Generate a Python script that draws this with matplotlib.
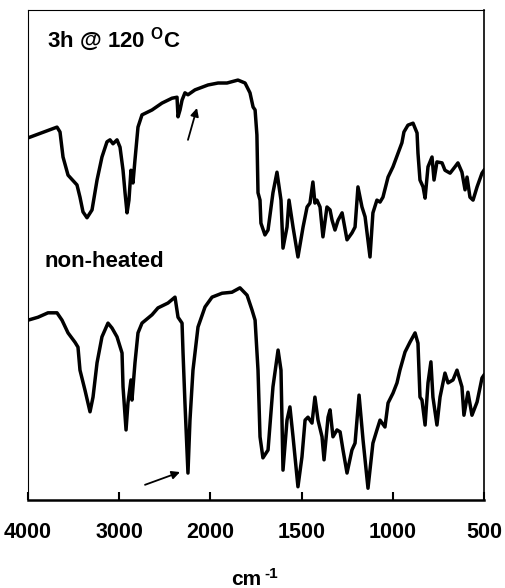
import numpy as np
import matplotlib
matplotlib.use("Agg")
import matplotlib.pyplot as plt

# ---- data (wavenumber in cm-1, arbitrary transmittance-like units 0-100) ----
heated_wn = [4000, 3682, 3649, 3616, 3561, 3463, 3430, 3397, 3353, 3298, 3243, 3189,
             3134, 3101, 3068, 3024, 2991, 2958, 2936, 2914, 2893, 2871, 2849, 2827,
             2794, 2750, 2640, 2531, 2421, 2366, 2355, 2333, 2311, 2279, 2246, 2169,
             2026, 1958, 1909, 1849, 1810, 1783, 1766, 1755, 1745, 1739, 1728, 1723,
             1701, 1684, 1657, 1635, 1613, 1602, 1580, 1569, 1547, 1520, 1492, 1470,
             1454, 1438, 1427, 1416, 1399, 1383, 1361, 1344, 1333, 1317, 1300, 1278,
             1251, 1224, 1207, 1191, 1169, 1152, 1125, 1109, 1087, 1070, 1054, 1026,
             999, 971, 950, 939, 917, 889, 867, 862, 851, 834, 823, 807, 785, 774,
             758, 730, 714, 686, 659, 643, 621, 604, 593, 577, 560, 538, 511, 500]
heated_t = [73.9, 76.1, 75.1, 70.0, 66.3, 64.3, 61.8, 58.8, 57.6, 59.2, 65.3, 70.0,
            73.1, 73.5, 72.7, 73.5, 72.0, 67.3, 62.7, 58.6, 61.2, 67.3, 64.7, 69.4,
            76.1, 78.6, 79.6, 81.0, 82.0, 82.2, 78.2, 79.6, 81.6, 83.1, 82.7, 83.7,
            84.7, 85.1, 85.1, 85.7, 85.1, 83.1, 80.2, 79.6, 74.5, 62.7, 61.2, 56.5,
            54.1, 55.1, 62.7, 66.9, 61.2, 51.4, 55.7, 61.2, 55.7, 49.6, 55.7, 59.8,
            60.6, 64.9, 60.6, 61.2, 59.8, 53.7, 59.8, 59.2, 57.1, 55.1, 57.1, 58.6,
            53.1, 54.5, 55.7, 63.9, 59.8, 57.8, 49.6, 58.6, 61.2, 60.8, 61.8, 65.9,
            68.0, 70.8, 72.9, 75.1, 76.5, 76.9, 74.9, 70.8, 65.3, 63.9, 61.6, 68.0,
            70.0, 65.3, 69.0, 68.8, 67.3, 66.7, 68.0, 68.8, 66.9, 63.3, 65.9, 61.8,
            61.2, 63.9, 66.7, 67.3]

nonheated_wn = [4000, 3890, 3781, 3682, 3627, 3561, 3485, 3452, 3430, 3375, 3320, 3287,
                3243, 3189, 3123, 3079, 3024, 2969, 2958, 2925, 2904, 2871, 2860, 2827,
                2794, 2750, 2640, 2575, 2465, 2388, 2355, 2311, 2300, 2279, 2246, 2224,
                2191, 2136, 2059, 1991, 1936, 1882, 1838, 1799, 1772, 1755, 1739, 1728,
                1712, 1684, 1657, 1629, 1613, 1602, 1580, 1564, 1547, 1520, 1498, 1481,
                1465, 1443, 1427, 1410, 1388, 1377, 1355, 1344, 1328, 1306, 1289, 1273,
                1251, 1224, 1207, 1185, 1163, 1136, 1109, 1087, 1070, 1043, 1026, 999,
                977, 961, 933, 906, 878, 862, 851, 840, 823, 807, 791, 780, 758, 741,
                714, 697, 670, 648, 621, 610, 588, 566, 538, 511, 500]
nonheated_t = [36.7, 37.3, 38.2, 38.2, 36.7, 34.1, 32.2, 31.2, 26.5, 22.4, 18.0, 21.0,
               28.0, 33.3, 36.1, 35.1, 33.3, 30.0, 23.1, 14.3, 19.8, 24.5, 20.4, 28.0,
               34.1, 36.1, 37.8, 39.2, 40.2, 41.4, 37.3, 36.1, 30.0, 19.8, 5.5, 16.3,
               26.5, 35.3, 39.4, 41.4, 42.2, 42.4, 43.3, 41.8, 38.8, 36.7, 26.5, 12.9,
               8.6, 10.2, 23.1, 30.6, 26.5, 6.1, 16.3, 19.0, 12.9, 2.7, 8.8, 16.3,
               16.9, 15.7, 21.0, 16.3, 12.9, 8.2, 16.9, 18.4, 12.9, 14.3, 13.9, 10.2,
               5.5, 10.2, 11.6, 21.4, 12.2, 2.4, 11.6, 14.3, 16.3, 14.9, 19.8, 21.8,
               23.9, 26.5, 30.2, 32.2, 34.1, 32.0, 21.0, 20.4, 15.3, 23.9, 28.2, 21.0,
               15.3, 21.0, 25.9, 23.9, 24.5, 26.5, 23.1, 17.3, 22.0, 17.3, 20.0, 24.9,
               25.5]

tick_values = [4000, 3000, 2000, 1500, 1000, 500]
tick_labels = ["4000", "3000", "2000", "1500", "1000", "500"]

label_heated = "3h @ 120 $^{\\mathbf{O}}$C"
label_nonheated = "non-heated"
x_title_main = "cm"
x_title_sup = "-1"

# arrows (wavenumber, value): tail -> head
arrow_heated = ((2246, 73.5), (2147, 80.0))
arrow_nonheated = ((2717, 3.1), (2333, 5.7))

# ---- figure ----
plt.rcParams['font.family'] = ['Liberation Sans', 'DejaVu Sans']
plt.rcParams['mathtext.fontset'] = 'custom'
plt.rcParams['mathtext.rm'] = 'Liberation Sans'
plt.rcParams['mathtext.bf'] = 'Liberation Sans:bold'

fig = plt.figure(figsize=(5.05, 5.88), dpi=100)
ax = fig.add_axes([28 / 505, 88 / 588, 456 / 505, 490 / 588])


def fwd(x):
    x = np.asarray(x, dtype=float)
    return np.where(x > 2000, 2000 + (x - 2000) / 2.0, x)


def inv(t):
    t = np.asarray(t, dtype=float)
    return np.where(t > 2000, 2000 + (t - 2000) * 2.0, t)


ax.set_xscale('function', functions=(fwd, inv))
ax.set_xlim(4000, 500)
ax.set_ylim(0, 100)

ax.plot(heated_wn, heated_t, color='black', lw=2.5, solid_joinstyle='round')
ax.plot(nonheated_wn, nonheated_t, color='black', lw=2.5, solid_joinstyle='round')

ax.set_xticks(tick_values)
ax.set_xticklabels(tick_labels, fontsize=15.5, fontweight='bold')
ax.xaxis.set_minor_locator(matplotlib.ticker.NullLocator())
ax.tick_params(axis='x', direction='in', length=6, width=1.5, pad=16)
ax.set_yticks([])

ax.spines['left'].set_linewidth(0.8)
ax.spines['top'].set_linewidth(0.8)
ax.spines['right'].set_linewidth(1.2)
ax.spines['bottom'].set_linewidth(1.8)

ax.text(0.042, 0.924, label_heated, transform=ax.transAxes, fontsize=16,
        fontweight='bold', va='baseline', ha='left')
ax.text(0.037, 0.476, label_nonheated, transform=ax.transAxes, fontsize=16,
        fontweight='bold', va='baseline', ha='left')

for (tail, head) in (arrow_heated, arrow_nonheated):
    ax.annotate("", xy=head, xytext=tail,
                arrowprops=dict(arrowstyle='-|>', color='black', lw=1.3,
                                mutation_scale=12, shrinkA=0, shrinkB=0))

fig.text(231 / 505, 3 / 588, x_title_main, fontsize=15, fontweight='bold',
         ha='left', va='baseline')
fig.text(264 / 505, 10 / 588, x_title_sup, fontsize=11, fontweight='bold',
         ha='left', va='baseline')

fig.savefig("out.png", dpi=100)
